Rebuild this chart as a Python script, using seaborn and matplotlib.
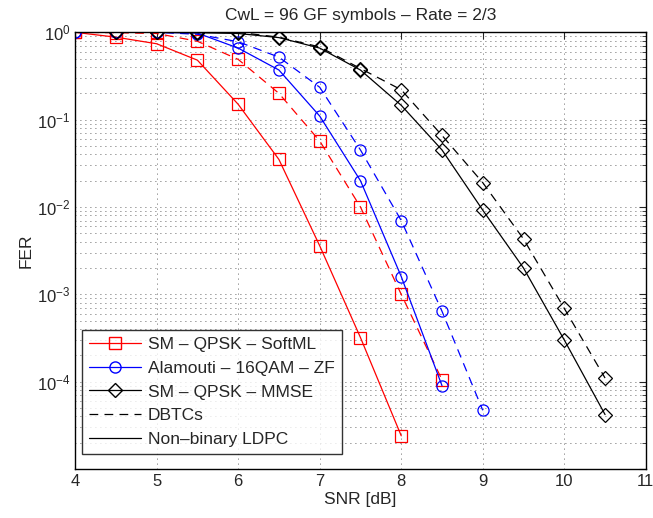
import numpy as np
import pandas as pd
import matplotlib
matplotlib.use("Agg")
import matplotlib.pyplot as plt
from matplotlib.lines import Line2D
from matplotlib.ticker import LogLocator, FuncFormatter
import seaborn as sns

# ---- data ----
snr_a = [4.0, 4.5, 5.0, 5.5, 6.0, 6.5, 7.0, 7.5, 8.0]
sm_soft_ldpc = [1.0, 0.88, 0.74, 0.48, 0.15, 0.035, 0.0036, 3.2e-4, 2.4e-5]
snr_b = [4.0, 4.5, 5.0, 5.5, 6.0, 6.5, 7.0, 7.5, 8.0, 8.5]
sm_soft_dbtc = [1.0, 0.99, 0.97, 0.79, 0.49, 0.2, 0.057, 0.01, 1.0e-3, 1.05e-4]
alam_ldpc = [1.0, 1.0, 1.0, 0.98, 0.66, 0.37, 0.11, 0.02, 1.6e-3, 9.0e-5]
snr_c = [4.0, 4.5, 5.0, 5.5, 6.0, 6.5, 7.0, 7.5, 8.0, 8.5, 9.0]
alam_dbtc = [1.0, 1.0, 1.0, 0.95, 0.78, 0.52, 0.235, 0.045, 0.007, 6.4e-4, 4.7e-5]
snr_d = [4.5, 5.0, 5.5, 6.0, 6.5, 7.0, 7.5, 8.0, 8.5, 9.0, 9.5, 10.0, 10.5]
mmse_ldpc = [1.0, 1.0, 0.99, 0.97, 0.87, 0.66, 0.37, 0.146, 0.045, 0.0092, 0.002, 3.0e-4, 4.2e-5]
mmse_dbtc = [1.0, 1.0, 1.0, 1.0, 0.88, 0.68, 0.385, 0.22, 0.066, 0.019, 0.0043, 6.9e-4, 1.1e-4]

legend_labels = ["SM \u2013 QPSK \u2013 SoftML", "Alamouti \u2013 16QAM \u2013 ZF",
                 "SM \u2013 QPSK \u2013 MMSE", "DBTCs", "Non\u2013binary LDPC"]
title = "CwL = 96 GF symbols \u2013 Rate = 2/3"

sns.set_style("white")
plt.rcParams['font.family'] = ['Liberation Sans', 'DejaVu Sans']
plt.rcParams['mathtext.default'] = 'regular'

fig = plt.figure(figsize=(6.53, 5.18), dpi=100)
ax = fig.add_axes([0.115, 0.0946, 0.874, 0.843])

DASH = (0, (7, 5))
series = [
    (snr_a, sm_soft_ldpc, "red", "s", "-"),
    (snr_b, sm_soft_dbtc, "red", "s", DASH),
    (snr_b, alam_ldpc, "blue", "o", "-"),
    (snr_c, alam_dbtc, "blue", "o", DASH),
    (snr_d, mmse_ldpc, "black", "D", "-"),
    (snr_d, mmse_dbtc, "black", "D", DASH),
]
for x, y, c, m, ls in series:
    df = pd.DataFrame({"snr": x, "fer": y})
    ms = 7 if m == "D" else 8
    sns.lineplot(data=df, x="snr", y="fer", ax=ax, color=c, marker=m,
                 linestyle=ls, linewidth=0.9, markersize=ms,
                 markerfacecolor="none", markeredgecolor=c, markeredgewidth=0.9,
                 legend=False)

ax.set_yscale("log")
ax.set_xlim(4, 11)
ax.set_ylim(1e-5, 1)
ax.set_xticks([4, 5, 6, 7, 8, 9, 10, 11])
ax.yaxis.set_major_locator(LogLocator(base=10, numticks=10))
ax.yaxis.set_minor_locator(LogLocator(base=10, subs=np.arange(2, 10), numticks=20))

def yfmt(v, pos):
    if v < 5e-5:
        return ""
    e = int(round(np.log10(v)))
    return r"$10^{%d}$" % e
ax.yaxis.set_major_formatter(FuncFormatter(yfmt))

ax.set_xlabel("SNR [dB]", fontsize=12.5, labelpad=2)
ax.set_ylabel("FER", fontsize=12.5, labelpad=2)
ax.set_title(title, fontsize=12.5, pad=9)
ax.tick_params(which="both", direction="in", top=True, right=True, labelsize=12)
ax.tick_params(which="major", length=5)
ax.tick_params(which="minor", length=3)
GRID = dict(linestyle=(0, (1, 5)), color="#333333", linewidth=0.6)
ax.grid(True, which="major", axis="both", **GRID)
ax.grid(True, which="minor", axis="y", **GRID)
for s in ax.spines.values():
    s.set_linewidth(1.0)
    s.set_color("black")

handles = [
    Line2D([], [], color="red", marker="s", markerfacecolor="none", markersize=8, lw=0.9),
    Line2D([], [], color="blue", marker="o", markerfacecolor="none", markersize=8, lw=0.9),
    Line2D([], [], color="black", marker="D", markerfacecolor="none", markersize=7, lw=0.9),
    Line2D([], [], color="black", linestyle=DASH, lw=0.9),
    Line2D([], [], color="black", linestyle="-", lw=0.9),
]
leg = ax.legend(handles, legend_labels, loc="lower left", bbox_to_anchor=(0.012, 0.034),
                fontsize=12.5, frameon=True, fancybox=False, edgecolor="black",
                handlelength=3.0, borderpad=0.4, labelspacing=0.5, handletextpad=0.4,
                borderaxespad=0)
leg.get_frame().set_linewidth(1.0)

fig.savefig("out.png", dpi=100)
